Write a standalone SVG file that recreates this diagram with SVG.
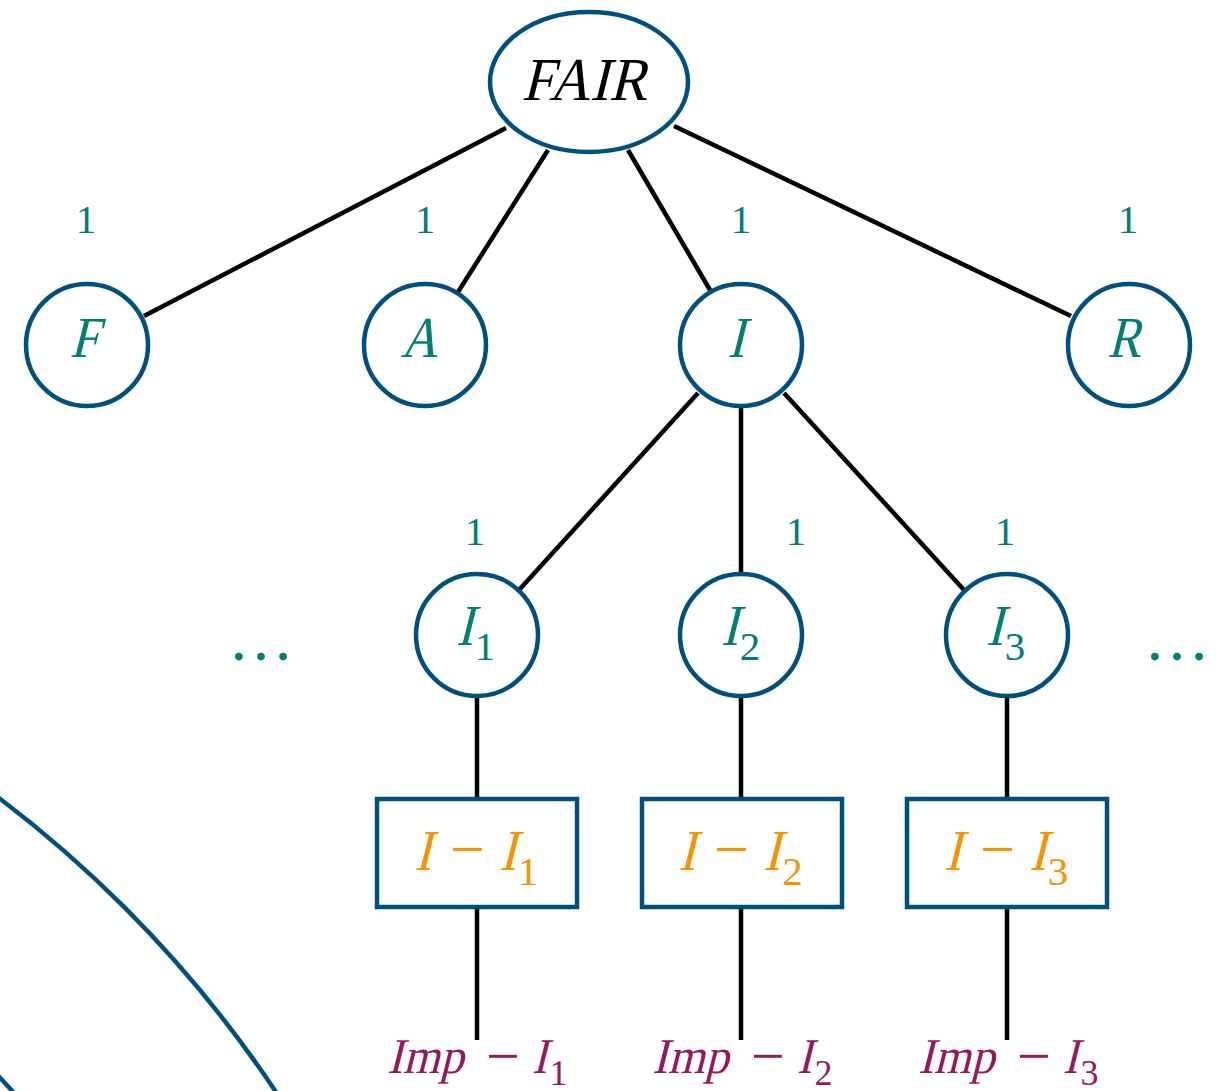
<svg xmlns="http://www.w3.org/2000/svg" width="1216" height="1091" viewBox="0 0 1216 1091" font-family="Liberation Serif, serif">
<style>
.node{fill:#fff;stroke:#00507f;stroke-width:4.5}
.edge{stroke:#000;stroke-width:4.5;fill:none}
.arc{stroke:#00507f;stroke-width:4.5;fill:none}
.m{text-anchor:middle}
.teal{fill:#007f74}
.orange{fill:#f59300}
.mag{fill:#951a5c}
.big{font-size:58px}
.w{text-anchor:middle;font-size:41px;fill:#007f74}
</style>
<rect width="1216" height="1091" fill="#fff"/>
<g id="background-arcs">
<circle class="arc" cx="-736" cy="1768" r="1217"/>
<circle class="arc" cx="-736" cy="1768" r="1009"/>
</g>
<g id="connectors">
<line class="edge" x1="506" y1="128" x2="144" y2="316"/>
<line class="edge" x1="548" y1="150" x2="458" y2="292"/>
<line class="edge" x1="628" y1="150" x2="710" y2="290"/>
<line class="edge" x1="674" y1="126" x2="1071" y2="316"/>
<line class="edge" x1="698" y1="393" x2="519" y2="590"/>
<line class="edge" x1="741" y1="408" x2="741" y2="572"/>
<line class="edge" x1="784" y1="393" x2="964" y2="590"/>
<line class="edge" x1="477" y1="697" x2="477" y2="797"/>
<line class="edge" x1="741" y1="697" x2="741" y2="797"/>
<line class="edge" x1="1007" y1="697" x2="1007" y2="797"/>
<line class="edge" x1="477" y1="909" x2="477" y2="1040"/>
<line class="edge" x1="741" y1="909" x2="741" y2="1040"/>
<line class="edge" x1="1007" y1="909" x2="1007" y2="1040"/>
</g>
<g id="weights">
<text class="w" x="86" y="233">1</text>
<text class="w" x="425" y="233">1</text>
<text class="w" x="741" y="233">1</text>
<text class="w" x="1128" y="233">1</text>
<text class="w" x="475" y="545">1</text>
<text class="w" x="796" y="545">1</text>
<text class="w" x="1005" y="545">1</text>
</g>
<g id="node-FAIR">
<ellipse class="node" cx="589" cy="82" rx="99" ry="70"/>
<text class="m" font-size="61" fill="#000" transform="translate(584,100) skewX(-14) scale(0.93,1)">FAIR</text>
</g>
<g id="node-F">
<circle class="node" cx="87" cy="345" r="61"/>
<text class="m big teal" transform="translate(84,357) skewX(-14) scale(0.9,1)">F</text>
</g>
<g id="node-A">
<circle class="node" cx="425" cy="345" r="61"/>
<text class="m big teal" transform="translate(419,357) skewX(-14) scale(0.88,1)">A</text>
</g>
<g id="node-I">
<circle class="node" cx="741" cy="345" r="61"/>
<text class="m big teal" transform="translate(736,357) skewX(-14) scale(0.9,1)">I</text>
</g>
<g id="node-R">
<circle class="node" cx="1129" cy="345" r="61"/>
<text class="m big teal" transform="translate(1124,357) skewX(-14) scale(0.86,1)">R</text>
</g>
<g id="node-I1">
<circle class="node" cx="477" cy="635" r="61"/>
<text class="big teal" transform="translate(456,645) skewX(-14) scale(0.9,1)">I</text>
<text class="m teal" font-size="41" x="485" y="660">1</text>
</g>
<g id="node-I2">
<circle class="node" cx="741" cy="635" r="61"/>
<text class="big teal" transform="translate(721,645) skewX(-14) scale(0.9,1)">I</text>
<text class="m teal" font-size="41" x="750" y="660">2</text>
</g>
<g id="node-I3">
<circle class="node" cx="1007" cy="635" r="61"/>
<text class="big teal" transform="translate(986,645) skewX(-14) scale(0.9,1)">I</text>
<text class="m teal" font-size="41" x="1015" y="660">3</text>
</g>
<g id="dots-left">
<text class="m teal" x="261" y="660" font-size="66">…</text>
</g>
<g id="dots-right">
<text class="m teal" x="1177" y="660" font-size="66">…</text>
</g>
<g id="box-I-I1">
<rect class="node" x="377" y="799" width="200" height="108"/>
<text class="big orange" transform="translate(414,870) skewX(-14) scale(0.9,1)">I</text>
<text class="m orange" font-size="62" x="467.5" y="870">−</text>
<text class="big orange" transform="translate(499,870) skewX(-14) scale(0.9,1)">I</text>
<text class="m orange" font-size="41" x="528" y="885">1</text>
</g>
<g id="box-I-I2">
<rect class="node" x="642" y="799" width="200" height="108"/>
<text class="big orange" transform="translate(678,870) skewX(-14) scale(0.9,1)">I</text>
<text class="m orange" font-size="62" x="731.5" y="870">−</text>
<text class="big orange" transform="translate(763,870) skewX(-14) scale(0.9,1)">I</text>
<text class="m orange" font-size="41" x="792.5" y="885">2</text>
</g>
<g id="box-I-I3">
<rect class="node" x="907" y="799" width="200" height="108"/>
<text class="big orange" transform="translate(944,870) skewX(-14) scale(0.9,1)">I</text>
<text class="m orange" font-size="62" x="997.5" y="870">−</text>
<text class="big orange" transform="translate(1029,870) skewX(-14) scale(0.9,1)">I</text>
<text class="m orange" font-size="41" x="1058" y="885">3</text>
</g>
<g id="leaf-Imp-I1">
<text class="mag" font-size="50" transform="translate(387,1073) skewX(-14) scale(0.95,1)">Imp</text>
<text class="m mag" font-size="60" x="503" y="1076">−</text>
<text class="mag" font-size="50" transform="translate(532,1073) skewX(-14) scale(0.9,1)">I</text>
<text class="m mag" font-size="36" x="558.5" y="1085">1</text>
</g>
<g id="leaf-Imp-I2">
<text class="mag" font-size="50" transform="translate(652,1073) skewX(-14) scale(0.95,1)">Imp</text>
<text class="m mag" font-size="60" x="768" y="1076">−</text>
<text class="mag" font-size="50" transform="translate(797,1073) skewX(-14) scale(0.9,1)">I</text>
<text class="m mag" font-size="36" x="823.5" y="1085">2</text>
</g>
<g id="leaf-Imp-I3">
<text class="mag" font-size="50" transform="translate(918,1073) skewX(-14) scale(0.95,1)">Imp</text>
<text class="m mag" font-size="60" x="1034" y="1076">−</text>
<text class="mag" font-size="50" transform="translate(1063,1073) skewX(-14) scale(0.9,1)">I</text>
<text class="m mag" font-size="36" x="1089.5" y="1085">3</text>
</g>
</svg>
